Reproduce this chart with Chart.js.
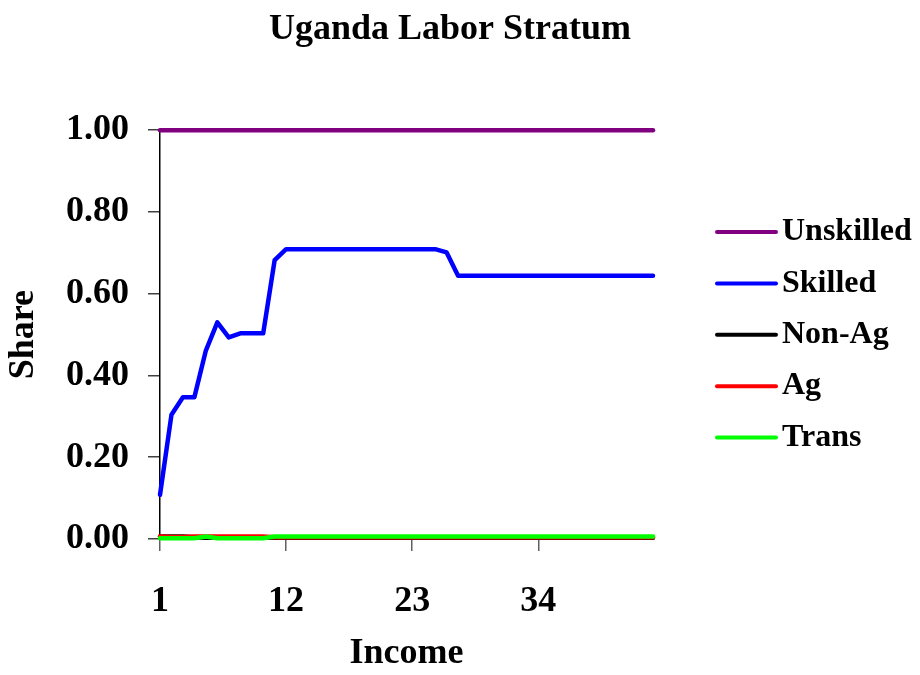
<!DOCTYPE html>
<html>
<head>
<meta charset="utf-8">
<script src="https://cdn.jsdelivr.net/npm/chart.js@4.4.1/dist/chart.umd.min.js"></script>
<style>
  html, body { margin: 0; padding: 0; background: #fff; }
  #wrap { width: 920px; height: 675px; position: relative; }
</style>
</head>
<body>
<div id="wrap"><canvas id="chart"></canvas></div>
<script>
// income categories
var incomeLabels = ["1", "2", "3", "4", "5", "6", "7", "8", "9", "10", "11",
  "12", "13", "14", "15", "16", "17", "18", "19", "20", "21", "22",
  "23", "24", "25", "26", "27", "28", "29", "30", "31", "32", "33",
  "34", "35", "36", "37", "38", "39", "40", "41", "42", "43", "44"];

// x tick labels shown
var shownTicks = ["1", "12", "23", "34"];

// y tick values
var yTicks = [0, 0.2, 0.4, 0.6, 0.8, 1.0];

var unskilled = [1, 1, 1, 1, 1, 1, 1, 1, 1, 1, 1,
  1, 1, 1, 1, 1, 1, 1, 1, 1, 1, 1,
  1, 1, 1, 1, 1, 1, 1, 1, 1, 1, 1,
  1, 1, 1, 1, 1, 1, 1, 1, 1, 1, 1];

var skilled = [0.108, 0.304, 0.347, 0.347, 0.461, 0.530, 0.493, 0.503, 0.503, 0.503, 0.682,
  0.709, 0.709, 0.709, 0.709, 0.709, 0.709, 0.709, 0.709, 0.709, 0.709, 0.709,
  0.709, 0.709, 0.709, 0.701, 0.644, 0.644, 0.644, 0.644, 0.644, 0.644, 0.644,
  0.644, 0.644, 0.644, 0.644, 0.644, 0.644, 0.644, 0.644, 0.644, 0.644, 0.644];

var nonAg = [0.006, 0.006, 0.006, 0.004, 0.003, 0.003, 0.003, 0.003, 0.003, 0.003, 0.003,
  0.003, 0.003, 0.003, 0.003, 0.003, 0.003, 0.003, 0.003, 0.003, 0.003, 0.003,
  0.003, 0.003, 0.003, 0.003, 0.003, 0.003, 0.003, 0.003, 0.003, 0.003, 0.003,
  0.003, 0.003, 0.003, 0.003, 0.003, 0.003, 0.003, 0.003, 0.003, 0.003, 0.003];

var ag = [0.006, 0.005, 0.005, 0.006, 0.006, 0.006, 0.006, 0.006, 0.006, 0.006, 0.004,
  0.004, 0.004, 0.004, 0.004, 0.004, 0.004, 0.004, 0.004, 0.004, 0.004, 0.004,
  0.004, 0.004, 0.004, 0.004, 0.004, 0.004, 0.004, 0.004, 0.004, 0.004, 0.004,
  0.004, 0.004, 0.004, 0.004, 0.004, 0.004, 0.004, 0.004, 0.004, 0.004, 0.004];

var trans = [0.002, 0.002, 0.002, 0.002, 0.006, 0.002, 0.002, 0.002, 0.002, 0.002, 0.006,
  0.006, 0.006, 0.006, 0.006, 0.006, 0.006, 0.006, 0.006, 0.006, 0.006, 0.006,
  0.006, 0.006, 0.006, 0.006, 0.006, 0.006, 0.006, 0.006, 0.006, 0.006, 0.006,
  0.006, 0.006, 0.006, 0.006, 0.006, 0.006, 0.006, 0.006, 0.006, 0.006, 0.006];

var serif = '"Liberation Serif", "Times New Roman", serif';
Chart.defaults.font.family = serif;
Chart.defaults.color = "#000";

function series(label, data, color, order) {
  return {
    label: label,
    data: data,
    borderColor: color,
    backgroundColor: color,
    borderWidth: 4.5,
    pointRadius: 0,
    pointHoverRadius: 0,
    tension: 0,
    borderCapStyle: "round",
    borderJoinStyle: "round",
    clip: false, // lines sit on the edges (1.00 and 0.00), don't cut them
    order: order, // lower order is drawn on top, like later series in the original
  };
}

// legend drawn at the right, same look as the original
var sideLegend = {
  id: "sideLegend",
  afterDraw: function (chart) {
    const ctx = chart.ctx;
    const sets = chart.data.datasets;
    ctx.save();
    ctx.font = "bold 32px " + serif;
    ctx.textBaseline = "middle";
    ctx.textAlign = "left";
    sets.forEach(function (ds, i) {
      let y = 232 + i * 51.4;
      ctx.strokeStyle = ds.borderColor;
      ctx.lineWidth = 4;
      ctx.lineCap = "round";
      ctx.beginPath();
      ctx.moveTo(717, y);
      ctx.lineTo(776, y);
      ctx.stroke();
      ctx.fillStyle = "#000";
      ctx.fillText(ds.label, 782, y);
    });
    ctx.restore();
  },
};

new Chart(document.getElementById("chart"), {
  type: "line",
  data: {
    labels: incomeLabels,
    datasets: [
      series("Unskilled", unskilled, "#800080", 4),
      series("Skilled", skilled, "#0000FF", 3),
      series("Non-Ag", nonAg, "#000000", 2),
      series("Ag", ag, "#FF0000", 1),
      series("Trans", trans, "#00FF00", 0),
    ],
  },
  plugins: [sideLegend],
  options: {
    responsive: true,
    maintainAspectRatio: false,
    animation: false,
    layout: { padding: { top: 0, right: 20, bottom: 0, left: 0 } },
    plugins: {
      legend: { display: false },
      tooltip: { enabled: false },
      title: {
        display: true,
        text: "Uganda Labor Stratum",
        color: "#000",
        font: { size: 36, weight: "bold" },
        padding: { top: 8, bottom: 79 },
      },
    },
    scales: {
      x: {
        type: "category",
        offset: false,
        afterBuildTicks: function (scale) {
          scale.ticks = scale.ticks.filter((t) => shownTicks.includes(incomeLabels[t.value]));
        },
        afterFit: function (scale) {
          scale.height = 136;
        },
        grid: {
          drawOnChartArea: false,
          drawTicks: true,
          tickLength: 12,
          color: "#606060",
          lineWidth: 1.5,
        },
        border: { display: true, color: "#808080", width: 1.5 },
        ticks: {
          autoSkip: false,
          maxRotation: 0,
          padding: 29,
          color: "#000",
          font: { size: 36, weight: "bold" },
        },
        title: {
          display: true,
          text: "Income",
          color: "#000",
          font: { size: 36, weight: "bold" },
          padding: { top: 0, bottom: 0 },
        },
      },
      y: {
        min: 0,
        max: 1,
        afterBuildTicks: function (scale) {
          scale.ticks = yTicks.map((v) => ({ value: v }));
        },
        afterFit: function (scale) {
          scale.width = 160;
        },
        grid: {
          drawOnChartArea: false,
          drawTicks: true,
          tickLength: 12,
          color: "#404040",
          lineWidth: 1.5,
        },
        border: { display: true, color: "#000", width: 1.5 },
        ticks: {
          padding: 19,
          color: "#000",
          font: { size: 36, weight: "bold" },
          callback: function (value) {
            return Number(value).toFixed(2);
          },
        },
        title: {
          display: true,
          text: "Share",
          color: "#000",
          font: { size: 36, weight: "bold" },
          padding: { top: 2, bottom: 2 },
        },
      },
      // empty axis that keeps room for the legend on the right
      side: {
        position: "right",
        display: true,
        grid: { display: false },
        border: { display: false },
        ticks: { display: false },
        afterFit: function (scale) {
          scale.width = 247;
        },
      },
    },
  },
});
</script>
</body>
</html>
